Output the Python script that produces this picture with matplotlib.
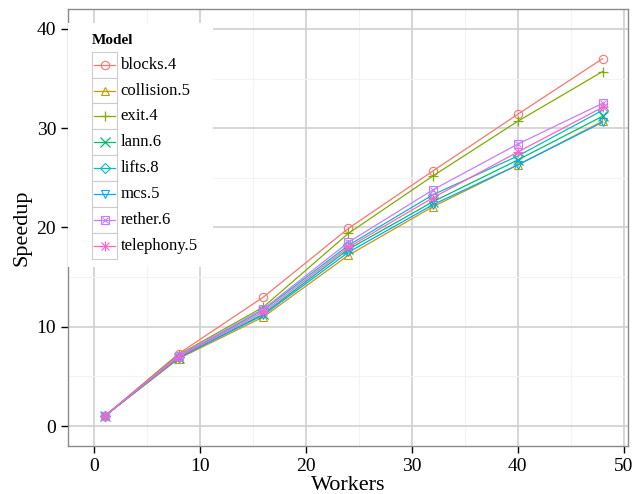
import matplotlib.pyplot as plt
from matplotlib.patches import Rectangle

plt.rcParams['font.family'] = ['Liberation Serif', 'DejaVu Serif']

# data
workers = [1, 8, 16, 24, 32, 40, 48]
models = ['blocks.4', 'collision.5', 'exit.4', 'lann.6', 'lifts.8', 'mcs.5', 'rether.6', 'telephony.5']
blocks = [1.0, 7.3, 13.0, 19.9, 25.7, 31.4, 37.0]
collision = [1.0, 6.8, 11.0, 17.2, 22.1, 26.3, 30.7]
exit_ = [1.0, 7.2, 12.0, 19.4, 25.2, 30.7, 35.7]
lann = [1.0, 6.9, 11.3, 17.8, 22.6, 26.8, 31.2]
lifts = [1.0, 7.0, 11.7, 18.2, 23.3, 27.2, 31.8]
mcs = [1.0, 6.9, 11.2, 17.5, 22.3, 26.3, 30.6]
rether = [1.0, 7.1, 11.8, 18.5, 23.8, 28.4, 32.5]
telephony = [1.0, 7.0, 11.5, 18.0, 23.0, 27.6, 32.1]
series = [blocks, collision, exit_, lann, lifts, mcs, rether, telephony]

colors = ['#F8766D', '#CD9600', '#7CAE00', '#00BE67', '#00BFC4', '#00A9FF', '#C77CFF', '#FF61CC']
markers = ['o', '^', '+', 'x', 'D', 'v', 's', '*']

fig = plt.figure(figsize=(6.44, 4.94), dpi=100)
ax = fig.add_axes([68 / 644, 1 - 446 / 494, 560 / 644, 437 / 494])


def draw_marks(a, x, y, c, m, ms):
    if m == '*':
        a.plot(x, y, color=c, lw=0, marker='+', ms=ms + 1, mew=0.8)
        a.plot(x, y, color=c, lw=0, marker='x', ms=ms, mew=0.8)
    elif m == 's':
        a.plot(x, y, color=c, lw=0, marker='s', ms=ms, mfc='none', mew=0.8)
        a.plot(x, y, color=c, lw=0, marker='x', ms=ms * 0.8, mew=0.8)
    elif m == 'D':
        a.plot(x, y, color=c, lw=0, marker='D', ms=ms * 0.8, mfc='none', mew=0.8)
    elif m in ('+', 'x'):
        a.plot(x, y, color=c, lw=0, marker=m, ms=ms + 1, mew=0.9)
    else:
        a.plot(x, y, color=c, lw=0, marker=m, ms=ms, mfc='none', mew=0.8)


for s, c, m in zip(series, colors, markers):
    ax.plot(workers, s, color=c, lw=0.9)
    draw_marks(ax, workers, s, c, m, 6)

ax.set_xlim(-2.45, 50.4)
ax.set_ylim(-2.0, 42.0)
ax.set_xticks([0, 10, 20, 30, 40, 50])
ax.set_yticks([0, 10, 20, 30, 40])
ax.set_xticks([5, 15, 25, 35, 45], minor=True)
ax.set_yticks([5, 15, 25, 35], minor=True)
ax.grid(True, which='major', color='#d0d0d0', lw=1.2)
ax.grid(True, which='minor', color='#f3f3f3', lw=0.8)
ax.set_axisbelow(True)
ax.tick_params(which='minor', length=0)
ax.tick_params(which='major', direction='out', length=5, width=1, color='black',
               labelsize=14, labelcolor='black')
for sp in ax.spines.values():
    sp.set_color('#8a8a8a')
    sp.set_linewidth(1)
ax.set_xlabel('Workers', fontsize=16, labelpad=1)
ax.set_ylabel('Speedup', fontsize=16, labelpad=4)

# legend drawn by hand (ggplot style key boxes)
lg = fig.add_axes([68 / 644, 1 - 267 / 494, 145 / 644, 244 / 494])
lg.set_xlim(0, 145)
lg.set_ylim(244, 0)
lg.axis('off')
lg.add_patch(Rectangle((0, 0), 145, 244, facecolor='white', edgecolor='none'))
lg.text(24, 17, 'Model', fontsize=11, fontweight='bold', va='center', ha='left')
row_h = 25.9
for i, (name, c, m) in enumerate(zip(models, colors, markers)):
    y0 = 28.7 + i * row_h
    yc = y0 + row_h / 2
    lg.add_patch(Rectangle((24, y0), 25, row_h, facecolor='white', edgecolor='#cccccc', lw=0.8))
    lg.plot([26, 47], [yc, yc], color=c, lw=0.9)
    draw_marks(lg, [36.5], [yc], c, m, 6)
    lg.text(52.5, yc, name, fontsize=12, va='center', ha='left')

fig.savefig('out.png', dpi=100)
